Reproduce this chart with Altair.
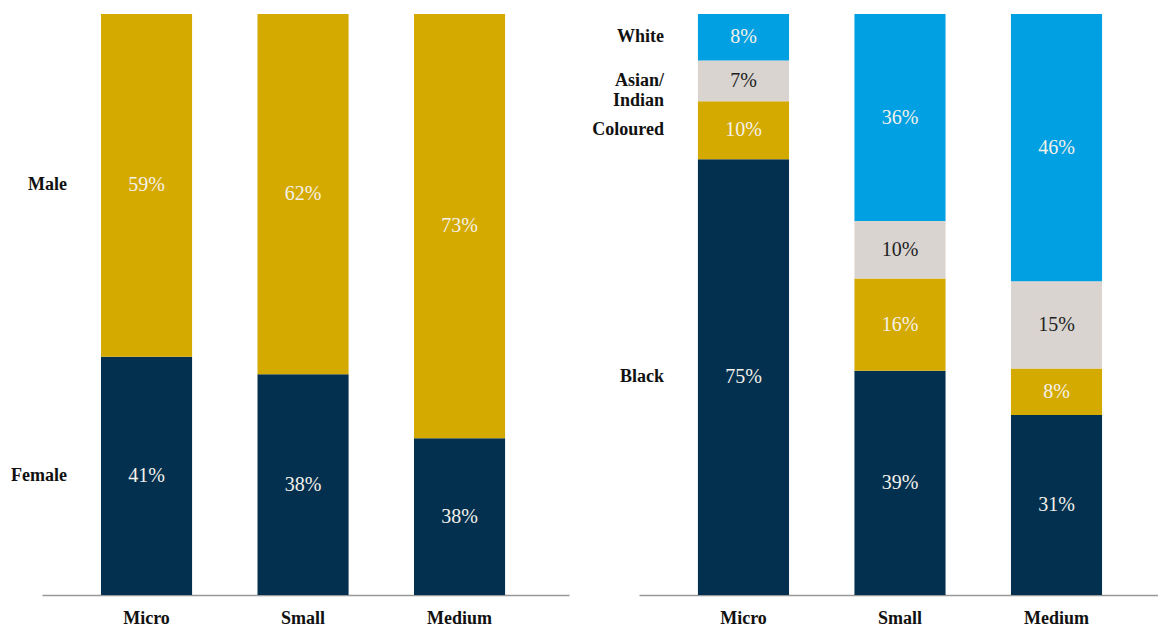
import altair as alt
import pandas as pd

sizes = ["Micro", "Small", "Medium"]

# Gender panel
gender_groups = ["Female", "Male"]
female = [41, 38, 27]
male = [59, 62, 73]
female_labels = ["41%", "38%", "38%"]
male_labels = ["59%", "62%", "73%"]

# Race panel
race_groups = ["Black", "Coloured", "Asian/Indian", "White"]
race_display = ["Black", "Coloured", "Asian/\nIndian", "White"]
black = [75, 39, 31]
coloured = [10, 16, 8]
asian = [7, 10, 15]
white = [8, 36, 46]
black_labels = ["75%", "39%", "31%"]
coloured_labels = ["10%", "16%", "8%"]
asian_labels = ["7%", "10%", "15%"]
white_labels = ["8%", "36%", "46%"]

NAVY = "#03304F"
GOLD = "#D4AA00"
GREY = "#D9D4D0"
BLUE = "#00A0E2"
FONT = "Liberation Serif"


def build(groups, display, values, labels):
    rows = []
    for gi, (g, d, vals, labs) in enumerate(zip(groups, display, values, labels)):
        for s, v, l in zip(sizes, vals, labs):
            rows.append({"size": s, "group": g, "display": d, "value": v, "label": l, "ord": gi})
    return pd.DataFrame(rows)


gender_df = build(gender_groups, gender_groups, [female, male], [female_labels, male_labels])
race_df = build(race_groups, race_display,
                [black, coloured, asian, white],
                [black_labels, coloured_labels, asian_labels, white_labels])


def panel(df, groups, colors, width, pad_outer, align):
    base = alt.Chart(df).transform_stack(
        stack="value", groupby=["size"], as_=["y0", "y1"],
        sort=[alt.SortField("ord", order="ascending")], offset="normalize"
    ).transform_calculate(mid="(datum.y0 + datum.y1) / 2")

    xscale = alt.Scale(domain=sizes, paddingInner=0.418, paddingOuter=pad_outer, align=align)
    x = alt.X("size:N", scale=xscale, sort=sizes,
              axis=alt.Axis(title=None, ticks=False, labelAngle=0, labelFont=FONT,
                            labelFontSize=18, labelFontWeight="bold", labelColor="#111",
                            labelPadding=14, domainColor="#999", domainWidth=1.5))
    yscale = alt.Scale(domain=[0, 1])

    bars = base.mark_bar().encode(
        x=x,
        y=alt.Y("y0:Q", scale=yscale, axis=None),
        y2="y1:Q",
        color=alt.Color("group:N", scale=alt.Scale(domain=groups, range=colors), legend=None),
    )
    pct = base.mark_text(font=FONT, fontSize=20, baseline="middle", align="center").encode(
        x=alt.X("size:N", scale=xscale, sort=sizes),
        y=alt.Y("mid:Q", scale=yscale),
        text="label:N",
        color=alt.condition(alt.datum.group == "Asian/Indian", alt.value("#222"), alt.value("#F4F1EA")),
    )
    rowlab = base.transform_filter(alt.datum.size == "Micro").mark_text(
        font=FONT, fontSize=18, fontWeight="bold", align="right", baseline="middle",
        lineBreak="\n", lineHeight=20, color="#111"
    ).encode(
        x=alt.value(25),
        y=alt.Y("mid:Q", scale=yscale),
        text="display:N",
    )
    return alt.layer(bars, pct, rowlab).properties(width=width, height=581)


left = panel(gender_df, gender_groups, [NAVY, GOLD], 527, 0.3927, 0.48)
right = panel(race_df, race_groups, [NAVY, GOLD, GREY, BLUE], 519, 0.367, 0.513)

chart = alt.hconcat(left, right, spacing=70, bounds="flush").resolve_scale(
    color="independent", x="independent", y="independent"
).properties(
    padding={"left": 11, "top": 14, "right": 0, "bottom": 0}
).configure_view(stroke=None)

chart.save("out.html", embed_options={"renderer": "svg", "actions": False})
